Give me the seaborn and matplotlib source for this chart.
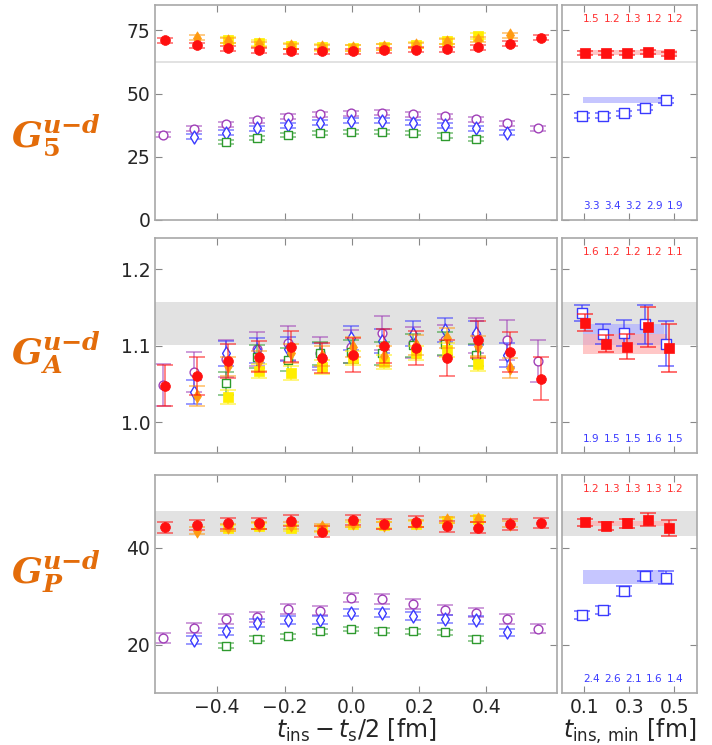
import numpy as np
import matplotlib
matplotlib.use("Agg")
import matplotlib.pyplot as plt
import seaborn as sns

# lattice spacing [fm] and insertion-time grids (in lattice units)
A_FM = 0.093
T8 = [-4, -3, -2, -1, 0, 1, 2, 3, 4]
T10 = [-5, -4, -3, -2, -1, 0, 1, 2, 3, 4, 5]
T12 = [-6, -5, -4, -3, -2, -1, 0, 1, 2, 3, 4, 5, 6]
TMIN = [1, 2, 3, 4, 5]

# ---- G5 ----
g5_green = [30.7, 32.6, 33.7, 34.5, 34.9, 34.9, 34.5, 33.4, 31.9]
g5_blue = [32.9, 34.5, 36.2, 37.5, 38.4, 39.2, 39.2, 38.4, 37.5, 36.2, 34.5]
g5_purple = [33.8, 36.0, 37.8, 39.5, 40.8, 41.8, 42.2, 42.4, 41.8, 41.1, 39.8, 38.2, 36.3]
g5_yellow = [71.3, 70.0, 68.7, 68.2, 68.0, 68.4, 69.1, 70.8, 72.6]
g5_orange = [72.1, 70.8, 69.5, 68.7, 68.2, 68.0, 68.4, 69.1, 70.4, 71.3, 73.0]
g5_red = [71.1, 69.1, 67.8, 67.1, 66.7, 66.7, 66.7, 67.1, 67.4, 67.5, 68.3, 69.7, 72.1]
g5_err = {"green": 0.8, "blue": 1.0, "purple": 1.0, "yellow": 1.2, "orange": 1.0, "red": 1.0}
g5_fit_blue = [41.2, 41.3, 42.2, 44.3, 47.4]
g5_fit_blue_err = [1.0, 1.0, 1.0, 1.0, 1.0]
g5_fit_red = [66.0, 66.0, 66.2, 66.3, 65.7]
g5_fit_red_err = [0.8, 0.8, 0.8, 0.8, 0.8]
g5_band_gray = (62.0, 62.8)
g5_band_blue = (46.3, 48.6)
g5_band_red = (65.1, 67.1)
g5_chi_red = ["1.5", "1.2", "1.3", "1.2", "1.2"]
g5_chi_blue = ["3.3", "3.4", "3.2", "2.9", "1.9"]

# ---- GA ----
ga_green = [1.051, 1.086, 1.082, 1.090, 1.092, 1.090, 1.101, 1.103, 1.088]
ga_blue = [1.040, 1.090, 1.094, 1.096, 1.088, 1.110, 1.106, 1.116, 1.121, 1.117, 1.088]
ga_purple = [1.049, 1.066, 1.083, 1.096, 1.104, 1.090, 1.099, 1.117, 1.104, 1.107, 1.114, 1.108, 1.080]
ga_yellow = [1.033, 1.067, 1.065, 1.072, 1.084, 1.079, 1.091, 1.095, 1.076]
ga_orange = [1.035, 1.073, 1.080, 1.090, 1.087, 1.098, 1.087, 1.101, 1.110, 1.100, 1.071]
ga_red = [1.048, 1.061, 1.080, 1.086, 1.099, 1.084, 1.088, 1.100, 1.097, 1.084, 1.108, 1.092, 1.057]
ga_err = {"green": 0.015, "blue": 0.016,
          "purple": [0.027, 0.026, 0.024, 0.022, 0.022, 0.021, 0.022, 0.022, 0.020, 0.020, 0.023, 0.026, 0.027],
          "yellow": 0.009, "orange": 0.013,
          "red": [0.027, 0.025, 0.022, 0.020, 0.020, 0.020, 0.022, 0.022, 0.022, 0.023, 0.024, 0.026, 0.028]}
ga_fit_blue = [1.143, 1.115, 1.117, 1.128, 1.103]
ga_fit_blue_err = [0.011, 0.013, 0.017, 0.025, 0.030]
ga_fit_red = [1.130, 1.103, 1.099, 1.125, 1.097]
ga_fit_red_err = [0.011, 0.011, 0.016, 0.026, 0.031]
ga_band_gray = (1.101, 1.157)
ga_band_blue = (1.101, 1.129)
ga_band_red = (1.089, 1.116)
ga_chi_red = ["1.6", "1.2", "1.2", "1.2", "1.1"]
ga_chi_blue = ["1.9", "1.5", "1.5", "1.6", "1.5"]

# ---- GP ----
gp_green = [19.8, 21.2, 21.7, 22.7, 23.2, 22.9, 22.7, 22.5, 21.2]
gp_blue = [20.9, 22.7, 24.4, 25.0, 25.0, 26.6, 26.5, 25.9, 25.3, 25.0, 22.5]
gp_purple = [21.4, 23.4, 25.3, 25.7, 27.3, 27.0, 29.7, 29.4, 28.4, 27.2, 26.6, 25.3, 23.3]
gp_yellow = [44.1, 44.4, 44.1, 43.9, 44.8, 44.6, 44.9, 45.6, 45.9]
gp_orange = [43.5, 44.2, 44.6, 44.6, 44.2, 45.0, 44.6, 45.0, 45.7, 45.9, 44.9]
gp_red = [44.2, 44.7, 45.0, 45.0, 45.6, 43.3, 45.7, 44.9, 45.4, 44.4, 44.1, 44.8, 45.1]
gp_err = {"green": 0.5, "blue": 0.8, "purple": 1.0, "yellow": 0.6, "orange": 0.7, "red": 1.1}
gp_fit_blue = [26.1, 27.2, 31.1, 34.1, 33.8]
gp_fit_blue_err = [0.8, 0.8, 1.0, 1.0, 1.4]
gp_fit_red = [45.2, 44.4, 45.0, 45.8, 44.1]
gp_fit_red_err = [0.8, 0.8, 1.0, 1.4, 1.7]
gp_band_gray = (42.4, 47.6)
gp_band_blue = (32.5, 35.4)
gp_band_red = (44.4, 45.6)
gp_chi_red = ["1.2", "1.3", "1.3", "1.3", "1.2"]
gp_chi_blue = ["2.4", "2.6", "2.1", "1.6", "1.4"]

COL = {"green": "#2e9a2e", "blue": "#3a3aff", "purple": "#a040b8",
       "yellow": "#ffee00", "orange": "#ff9a10", "red": "#ff1010"}
ORANGE_LABEL = "#e36c0a"
SPINE = "#a8a8a8"

sns.set_style("ticks", {"xtick.direction": "in", "ytick.direction": "in"})
plt.rcParams["font.family"] = ["DejaVu Sans"]

fig = plt.figure(figsize=(7.12, 7.45), dpi=100)

SUP = "^{\\mathbfit{u{\u2212}d}}"
rows = [
    dict(left=[0.2177, 0.7047, 0.5646, 0.2886], right=[0.7893, 0.7047, 0.1896, 0.2886],
         ylim=(0, 85), yticks=[0, 25, 50, 75], yfmt="{:.0f}",
         data=[g5_green, g5_blue, g5_purple, g5_yellow, g5_orange, g5_red], err=g5_err,
         fit=(g5_fit_blue, g5_fit_blue_err, g5_fit_red, g5_fit_red_err),
         gray=g5_band_gray, bblue=g5_band_blue, bred=g5_band_red,
         chi=(g5_chi_red, g5_chi_blue), bx_red=(0.075, 0.51), bx_blue=(0.093, 0.455),
         label="$\\mathbfit{G}_{\\mathbf{5}}" + SUP + "$", ly=0.818),
    dict(left=[0.2177, 0.392, 0.5646, 0.2886], right=[0.7893, 0.392, 0.1896, 0.2886],
         ylim=(0.96, 1.241), yticks=[1.0, 1.1, 1.2], yfmt="{:.1f}",
         data=[ga_green, ga_blue, ga_purple, ga_yellow, ga_orange, ga_red], err=ga_err,
         fit=(ga_fit_blue, ga_fit_blue_err, ga_fit_red, ga_fit_red_err),
         gray=ga_band_gray, bblue=ga_band_blue, bred=ga_band_red,
         chi=(ga_chi_red, ga_chi_blue), bx_red=(0.093, 0.465), bx_blue=(0.093, 0.455),
         label="$\\mathbfit{G}_{\\mathbfit{A}}" + SUP + "$", ly=0.527),
    dict(left=[0.2177, 0.0698, 0.5646, 0.2926], right=[0.7893, 0.0698, 0.1896, 0.2926],
         ylim=(10, 55), yticks=[20, 40], yfmt="{:.0f}",
         data=[gp_green, gp_blue, gp_purple, gp_yellow, gp_orange, gp_red], err=gp_err,
         fit=(gp_fit_blue, gp_fit_blue_err, gp_fit_red, gp_fit_red_err),
         gray=gp_band_gray, bblue=gp_band_blue, bred=gp_band_red,
         chi=(gp_chi_red, gp_chi_blue), bx_red=(0.093, 0.49), bx_blue=(0.093, 0.455),
         label="$\\mathbfit{G}_{\\mathbfit{P}}" + SUP + "$", ly=0.232),
]

# series: (name, grid, marker, open?, x-shift, size)
series = [
    ("purple", T12, "o", True, -0.003, 40),
    ("blue", T10, "d", True, -0.003, 44),
    ("green", T8, "s", True, -0.003, 34),
    ("yellow", T8, "s", False, 0.004, 46),
    ("orange", T10, "d", False, 0.004, 46),
    ("red", T12, "o", False, 0.004, 50),
]
order_idx = {"green": 0, "blue": 1, "purple": 2, "yellow": 3, "orange": 4, "red": 5}


def style_axes(ax):
    for sp in ax.spines.values():
        sp.set_visible(True)
        sp.set_color(SPINE)
        sp.set_linewidth(1.2)
    ax.tick_params(which="both", direction="in", top=True, right=True,
                   color="#888888", length=5, labelsize=13.5)


for i, r in enumerate(rows):
    axl = fig.add_axes(r["left"])
    axr = fig.add_axes(r["right"])

    # left panel
    axl.axhspan(*r["gray"], color="#e2e2e2", lw=0, zorder=0)
    for k, (name, grid, mk, hollow, dx, size) in enumerate(series):
        y = r["data"][order_idx[name]]
        x = np.array(grid) * A_FM + dx
        e = r["err"][name]
        axl.errorbar(x, y, yerr=e, fmt="none", ecolor=COL[name], elinewidth=1.2,
                     capsize=5.5, capthick=1.2, alpha=0.6, zorder=2 + k)
        if hollow:
            sns.scatterplot(x=x, y=y, marker=mk, s=size, color="white",
                            edgecolor=COL[name], linewidth=1.0, ax=axl, zorder=2.5 + k)
        else:
            sns.scatterplot(x=x, y=y, marker=mk, s=size, color=COL[name],
                            edgecolor=COL[name], linewidth=0.5, ax=axl, zorder=2.5 + k)
    axl.set_xlim(-0.585, 0.61)
    axl.set_ylim(*r["ylim"])
    axl.set_xticks([-0.4, -0.2, 0.0, 0.2, 0.4])
    axl.set_yticks(r["yticks"])
    axl.set_yticklabels([r["yfmt"].format(v) for v in r["yticks"]])
    style_axes(axl)

    # right panel
    fb, fbe, fr, fre = r["fit"]
    xm = np.array(TMIN) * A_FM
    axr.axhspan(*r["gray"], color="#e2e2e2", lw=0, zorder=0)
    axr.fill_between(r["bx_blue"], *r["bblue"], color="#b4b4ff", alpha=0.75, lw=0, zorder=1)
    axr.fill_between(r["bx_red"], *r["bred"], color="#ffb0b0", alpha=0.7, lw=0, zorder=1.1)
    axr.errorbar(xm - 0.003, fb, yerr=fbe, fmt="none", ecolor=COL["blue"], elinewidth=1.2,
                 capsize=5.5, capthick=1.2, alpha=0.7, zorder=2)
    sns.scatterplot(x=xm - 0.003, y=fb, marker="s", s=42, color="white",
                    edgecolor=COL["blue"], linewidth=1.0, ax=axr, zorder=3)
    axr.errorbar(xm + 0.01, fr, yerr=fre, fmt="none", ecolor=COL["red"], elinewidth=1.2,
                 capsize=5.5, capthick=1.2, alpha=0.7, zorder=4)
    sns.scatterplot(x=xm + 0.01, y=fr, marker="s", s=48, color=COL["red"],
                    edgecolor=COL["red"], linewidth=0.5, ax=axr, zorder=5)
    chi_r, chi_b = r["chi"]
    tr = axr.get_xaxis_transform()
    for xx, cr, cb in zip(xm, chi_r, chi_b):
        axr.text(xx + 0.038, 0.935, cr, color="#ff3030", fontsize=7.5,
                 ha="center", va="center", transform=tr)
        axr.text(xx + 0.038, 0.065, cb, color="#3a3aff", fontsize=7.5,
                 ha="center", va="center", transform=tr)
    axr.set_xlim(0.0, 0.6)
    axr.set_ylim(*r["ylim"])
    axr.set_xticks([0.1, 0.3, 0.5])
    axr.set_yticks(r["yticks"])
    axr.set_yticklabels([])
    style_axes(axr)

    if i < 2:
        axl.set_xticklabels([])
        axr.set_xticklabels([])
    else:
        axl.set_xticklabels(["\u22120.4", "\u22120.2", "0.0", "0.2", "0.4"])
        axr.set_xticklabels(["0.1", "0.3", "0.5"])
        axl.set_xlabel(r"$t_{\rm ins} - t_{\rm s}/2$ [fm]", fontsize=17, labelpad=0)
        axr.set_xlabel(r"$t_{\rm ins,\,min}$ [fm]", fontsize=17, labelpad=0)

    fig.text(0.079, r["ly"], r["label"], color=ORANGE_LABEL, fontsize=26,
             ha="center", va="center", math_fontfamily="dejavuserif")

fig.savefig("out.png", dpi=100)
